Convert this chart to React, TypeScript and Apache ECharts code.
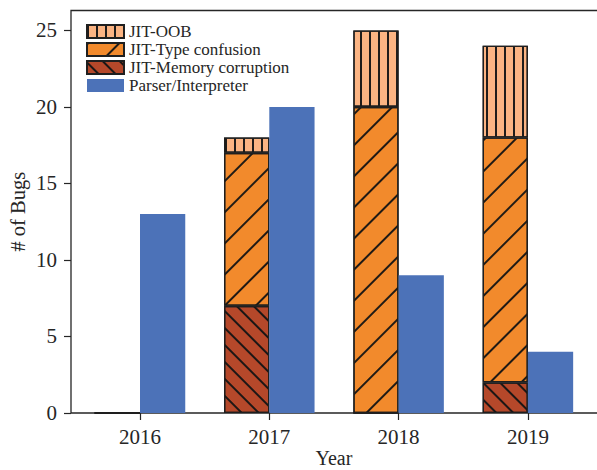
import React, { useEffect, useRef } from "react";
import * as echarts from "echarts";

const years = ["2016", "2017", "2018", "2019"];
const jitMemory = [0, 7, 0, 2];
const jitType = [0, 10, 20, 16];
const jitOOB = [0, 1, 5, 6];
const parser = [13, 20, 9, 4];
const names = ["JIT-OOB", "JIT-Type confusion", "JIT-Memory corruption", "Parser/Interpreter"];
const yMax = 26.3;
const yStep = 5;

const FONT = "'Liberation Serif', 'DejaVu Serif', serif";
const EDGE = "#1f1f1f";

export default function App() {
  const ref = useRef<HTMLDivElement>(null);
  useEffect(() => {
    if (!ref.current) return;
    const chart = echarts.init(ref.current, undefined, { renderer: "svg" });
    const edgeStyle = { borderColor: EDGE, borderWidth: 1.3 };
    chart.setOption({
      animation: false,
      backgroundColor: "#ffffff",
      textStyle: { fontFamily: FONT },
      grid: [
        {
          left: 75.35,
          top: 10.5,
          width: 517.2,
          height: 402.5,
          containLabel: false,
          outerBoundsMode: "none",
        },
        {
          left: 71,
          top: 10.5,
          right: -4,
          height: 402.5,
          show: true,
          borderColor: "#262626",
          borderWidth: 1.3,
          backgroundColor: "transparent",
          containLabel: false,
          outerBoundsMode: "none",
        },
      ],
      legend: {
        orient: "vertical",
        left: 86,
        top: 23,
        padding: 0,
        itemWidth: 37,
        itemHeight: 13,
        itemGap: 1,
        icon: "rect",
        data: names,
        textStyle: { fontFamily: FONT, fontSize: 17, color: "#262626" },
      },
      xAxis: [
        {
          type: "category",
          data: years,
          gridIndex: 0,
          axisLine: { show: false },
          axisTick: { show: true, alignWithLabel: true, length: 7, lineStyle: { color: "#262626", width: 1.2 } },
          axisLabel: { fontFamily: FONT, fontSize: 21, color: "#262626", margin: 13 },
          name: "Year",
          nameLocation: "middle",
          nameGap: 35,
          nameMoveOverlap: false,
          nameTextStyle: { fontFamily: FONT, fontSize: 20, color: "#262626" },
        },
        { type: "value", gridIndex: 1, show: false, min: 0, max: 1 },
      ],
      yAxis: [
        {
          type: "value",
          gridIndex: 0,
          min: 0,
          max: yMax,
          interval: yStep,
          offset: 4.35,
          axisLine: { show: false },
          splitLine: { show: false },
          axisTick: { show: true, length: 7, lineStyle: { color: "#262626", width: 1.2 } },
          axisLabel: {
            fontFamily: FONT,
            fontSize: 21,
            color: "#262626",
            margin: 14,
            showMaxLabel: false,
          },
          name: "# of Bugs",
          nameLocation: "middle",
          nameGap: 43,
          nameMoveOverlap: false,
          nameTextStyle: { fontFamily: FONT, fontSize: 20.5, color: "#262626" },
        },
        { type: "value", gridIndex: 1, show: false, min: 0, max: 1 },
      ],
      series: [
        {
          name: names[2],
          type: "bar",
          stack: "jit",
          barWidth: "35%",
          barGap: "0%",
          data: jitMemory,
          itemStyle: {
            color: "#b5482a",
            ...edgeStyle,
            decal: {
              symbol: "rect",
              color: "rgba(20,20,20,0.95)",
              dashArrayX: [1, 0],
              dashArrayY: [1.4, 9.2],
              rotation: Math.PI / 4,
            },
          },
        },
        {
          name: names[1],
          type: "bar",
          stack: "jit",
          barWidth: "35%",
          data: jitType,
          itemStyle: {
            color: "#f28a2c",
            ...edgeStyle,
            decal: {
              symbol: "rect",
              color: "rgba(20,20,20,0.95)",
              dashArrayX: [1, 0],
              dashArrayY: [1.4, 19.8],
              rotation: -Math.PI / 4,
            },
          },
        },
        {
          name: names[0],
          type: "bar",
          stack: "jit",
          barWidth: "35%",
          data: jitOOB,
          itemStyle: {
            color: "#fbb483",
            ...edgeStyle,
            decal: {
              symbol: "rect",
              color: "rgba(20,20,20,0.95)",
              dashArrayX: [1.4, 6.3],
              dashArrayY: [1, 0],
              rotation: 0,
            },
          },
        },
        {
          name: names[3],
          type: "bar",
          barWidth: "35%",
          barGap: "0%",
          data: parser,
          itemStyle: { color: "#4c72b8", borderWidth: 0 },
        },
      ],
    });
    return () => chart.dispose();
  }, []);
  return (
    <div
      ref={ref}
      style={{ position: "fixed", left: 0, top: 0, width: 597, height: 470 }}
    />
  );
}
